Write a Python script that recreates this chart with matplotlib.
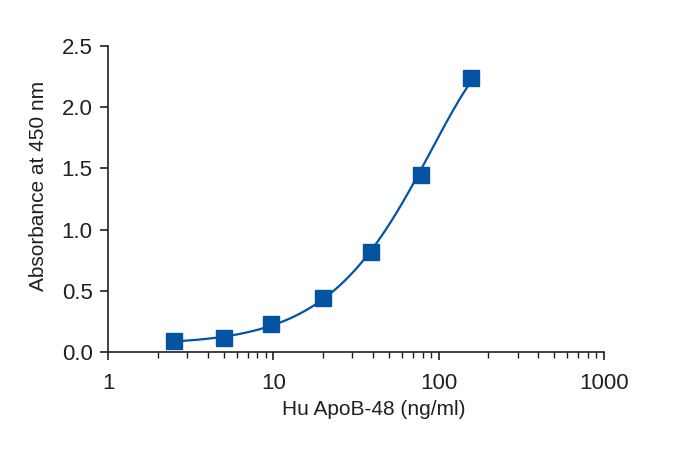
import numpy as np
import matplotlib
matplotlib.use('Agg')
from matplotlib import pyplot as plt
from matplotlib.ticker import NullFormatter, LogLocator

conc = [2.5, 5.0, 9.7, 20.0, 39.0, 78.0, 156.0]
absorb = [0.09, 0.114, 0.23, 0.44, 0.82, 1.445, 2.24]
xticks = [1, 10, 100, 1000]
xticklabels = ['1', '10', '100', '1000']
yticks = [0.0, 0.5, 1.0, 1.5, 2.0, 2.5]
yticklabels = ['0.0', '0.5', '1.0', '1.5', '2.0', '2.5']

plt.rcParams['font.family'] = ['Liberation Sans Narrow', 'Liberation Sans', 'DejaVu Sans']
ink = '#231f20'
blue = '#0453a3'

fig = plt.figure(figsize=(7, 4.49), dpi=100)
ax = fig.add_axes([0.1543, 0.216, 0.7086, 0.6816])

# smooth fitted curve through the standards (cubic, log-log)
lx = np.log10(conc)
ly = np.log10(absorb)
coef = np.polyfit(lx, ly, 3)
fx = np.linspace(lx[0], lx[-1], 200)
ax.plot(10 ** fx, 10 ** np.polyval(coef, fx), color=blue, lw=1.6, zorder=2)
ax.plot(conc, absorb, 's', color=blue, ms=11.5, zorder=3)

ax.set_xscale('log')
ax.set_xlim(1, 1000)
ax.set_ylim(0, 2.5)
ax.set_xticks(xticks)
ax.set_xticklabels(xticklabels)
ax.xaxis.set_minor_locator(LogLocator(base=10, subs=np.arange(2, 10)))
ax.xaxis.set_minor_formatter(NullFormatter())
ax.set_yticks(yticks)
ax.set_yticklabels(yticklabels)

for s in ['top', 'right']:
    ax.spines[s].set_visible(False)
for s in ['left', 'bottom']:
    ax.spines[s].set_color(ink)
    ax.spines[s].set_linewidth(1.2)

ax.tick_params(axis='both', which='major', direction='out', length=6, width=1.2,
               colors=ink, labelsize=16)
ax.tick_params(axis='x', which='major', pad=9)
ax.tick_params(axis='y', which='major', pad=5)
ax.tick_params(axis='x', which='minor', direction='out', length=4, width=1.0, colors=ink)

ax.set_xlabel('Hu ApoB-48 (ng/ml)', fontsize=15, color=ink)
ax.set_ylabel('Absorbance at 450 nm', fontsize=15, color=ink)
ax.xaxis.set_label_coords(0.536, -0.156)
ax.yaxis.set_label_coords(-0.12, 0.542)

fig.savefig('out.png', dpi=100)
